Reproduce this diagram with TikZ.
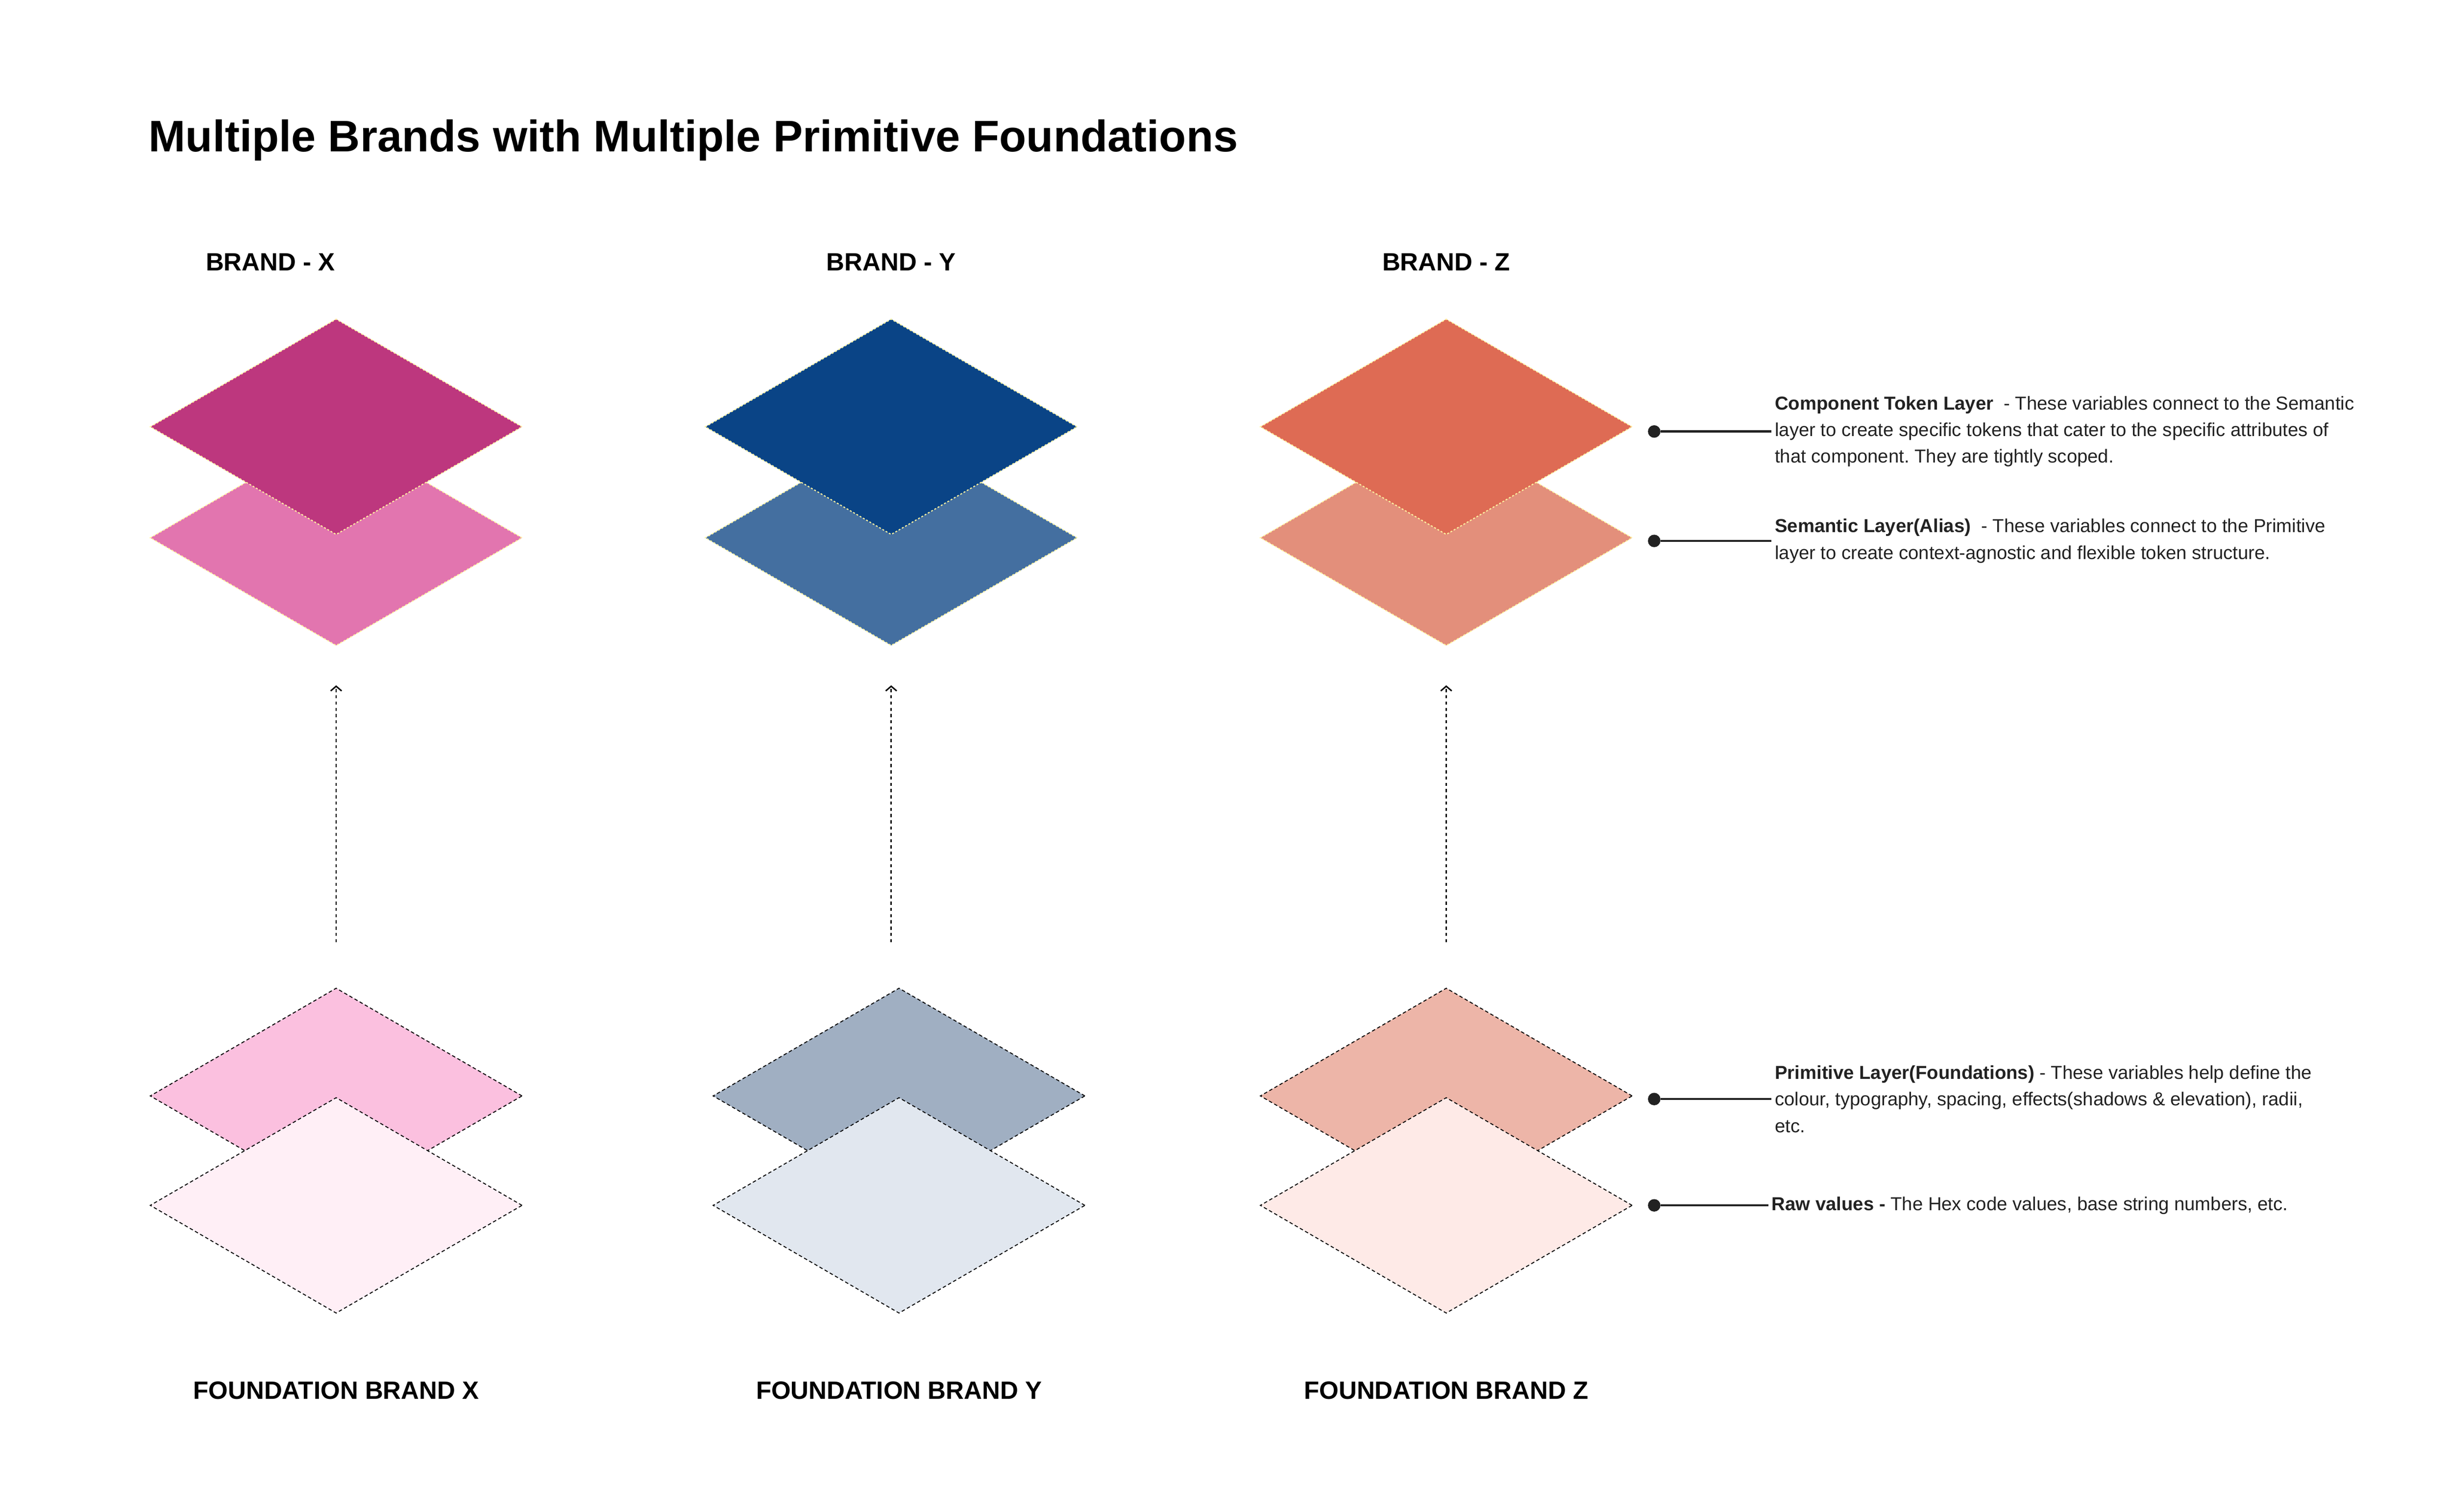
\documentclass[tikz,border=0pt]{standalone}
\usepackage{fontspec}
\setmainfont{Liberation Sans}
\usetikzlibrary{shapes.geometric,arrows.meta,positioning}

\definecolor{xTop}{HTML}{BD377E}
\definecolor{xMid}{HTML}{E275AF}
\definecolor{xFnd}{HTML}{FBC0DF}
\definecolor{xRaw}{HTML}{FFEFF6}
\definecolor{yTop}{HTML}{0A4486}
\definecolor{yMid}{HTML}{446FA0}
\definecolor{yFnd}{HTML}{A0AFC2}
\definecolor{yRaw}{HTML}{E1E7EF}
\definecolor{zTop}{HTML}{DE6B54}
\definecolor{zMid}{HTML}{E38F7B}
\definecolor{zFnd}{HTML}{EDB5A8}
\definecolor{zRaw}{HTML}{FEEAE7}
\definecolor{lemon}{HTML}{FFF3A0}
\definecolor{ink}{HTML}{222222}

\tikzset{
  layer/.style={diamond, minimum width=238pt, minimum height=138pt, inner sep=0pt},
  brandlayer/.style={layer, draw=lemon, line width=0.7pt, dash pattern=on 1.2pt off 1.2pt},
  fndlayer/.style={layer, draw=black, line width=0.6pt, dash pattern=on 2.2pt off 1.6pt},
  flow/.style={draw=black, line width=0.9pt, dash pattern=on 2pt off 2pt, -{Straight Barb[length=3pt,width=7pt]}},
  brandlbl/.style={anchor=base, font=\bfseries\fontsize{16}{19}\selectfont},
  pin/.style={circle, fill=ink, inner sep=0pt, minimum size=8pt},
  leader/.style={draw=ink, line width=1.4pt},
  note/.style={align=left, anchor=west, inner sep=2pt, text=ink, font=\frenchspacing\fontsize{12}{17}\selectfont}
}

\begin{document}
\begin{tikzpicture}[x=1pt,y=1pt,yscale=-1]
\useasboundingbox (0,0) rectangle (1567,967);

% Text Node
\node[anchor=base west, inner sep=0pt, font=\bfseries\fontsize{28.3}{32}\selectfont] (title) at (95,97) {Multiple Brands with Multiple Primitive Foundations};

% Text Node
\node[brandlbl] (lblX) at (173,173) {BRAND - X};
% Text Node
\node[brandlbl] (lblY) at (570,173) {BRAND - Y};
% Text Node
\node[brandlbl] (lblZ) at (925,173) {BRAND - Z};

%Shape: Diamond
\node[brandlayer, fill=xMid] (bX2) at (215,344) {};
%Shape: Diamond
\node[brandlayer, fill=xTop] (bX1) at (215,273) {};
%Shape: Diamond
\node[brandlayer, fill=yMid] (bY2) at (570,344) {};
%Shape: Diamond
\node[brandlayer, fill=yTop] (bY1) at (570,273) {};
%Shape: Diamond
\node[brandlayer, fill=zMid] (bZ2) at (925,344) {};
%Shape: Diamond
\node[brandlayer, fill=zTop] (bZ1) at (925,273) {};

%Shape: Diamond
\node[fndlayer, fill=xFnd] (fX1) at (215,701) {};
%Shape: Diamond
\node[fndlayer, fill=xRaw] (fX2) at (215,771) {};
%Shape: Diamond
\node[fndlayer, fill=yFnd] (fY1) at (575,701) {};
%Shape: Diamond
\node[fndlayer, fill=yRaw] (fY2) at (575,771) {};
%Shape: Diamond
\node[fndlayer, fill=zFnd] (fZ1) at (925,701) {};
%Shape: Diamond
\node[fndlayer, fill=zRaw] (fZ2) at (925,771) {};

%Straight Lines
\draw[flow] ([yshift=-29pt]fX1.north) -- ([yshift=25pt]bX2.south);
%Straight Lines
\draw[flow] ([yshift=-29pt]fY1.north -| bY2.south) -- ([yshift=25pt]bY2.south);
%Straight Lines
\draw[flow] ([yshift=-29pt]fZ1.north) -- ([yshift=25pt]bZ2.south);

% Text Node
\node[brandlbl] (fndX) at (215,895) {FOUNDATION BRAND X};
% Text Node
\node[brandlbl] (fndY) at (575,895) {FOUNDATION BRAND Y};
% Text Node
\node[brandlbl] (fndZ) at (925,895) {FOUNDATION BRAND Z};

%Shape: Circle
\node[pin] (pinA) at (1058,276) {};
\coordinate (endA) at (1133,276);
% Text Node
\node[note, right=0pt of endA] (noteA) {\textbf{Component Token Layer}\ \ - These variables connect to the Semantic\\layer to create specific tokens that cater to the specific attributes of\\that component. They are tightly scoped.};
\draw[leader] (pinA) -- (noteA.west);

%Shape: Circle
\node[pin] (pinB) at (1058,346) {};
\coordinate (endB) at (1133,346);
% Text Node
\node[note, right=0pt of endB] (noteB) {\textbf{Semantic Layer(Alias)}\ \ - These variables connect to the Primitive\\layer to create context-agnostic and flexible token structure.};
\draw[leader] (pinB) -- (noteB.west);

%Shape: Circle
\node[pin] (pinC) at (1058,703) {};
\coordinate (endC) at (1133,703);
% Text Node
\node[note, right=0pt of endC] (noteC) {\textbf{Primitive Layer(Foundations)} - These variables help define the\\colour, typography, spacing, effects(shadows \& elevation), radii,\\etc.};
\draw[leader] (pinC) -- (noteC.west);

%Shape: Circle
\node[pin] (pinD) at (1058,771) {};
\coordinate (endD) at (1131,771);
% Text Node
\node[note, right=0pt of endD] (noteD) {\textbf{Raw values -} The Hex code values, base string numbers, etc.};
\draw[leader] (pinD) -- (noteD.west);

\end{tikzpicture}
\end{document}
